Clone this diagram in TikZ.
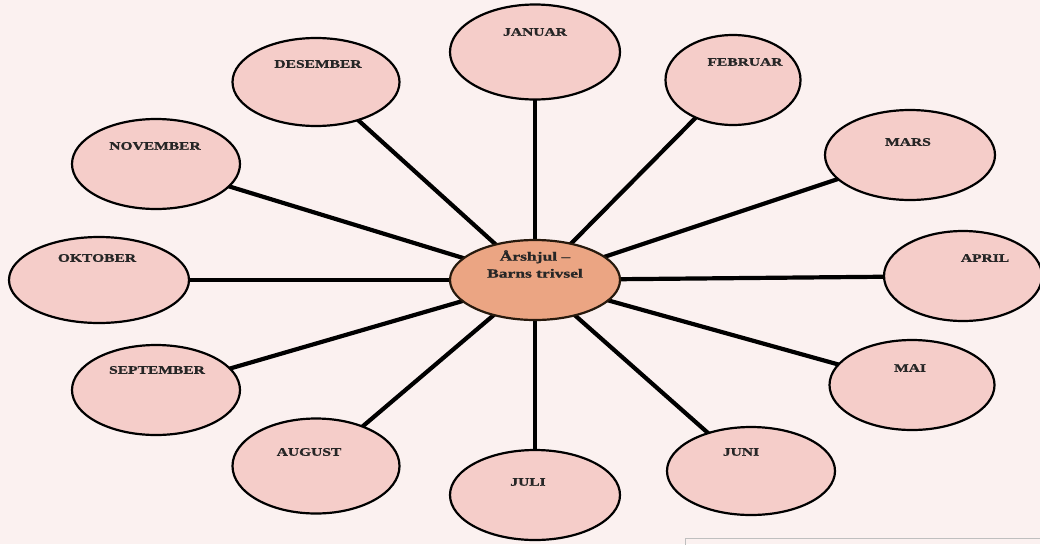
\documentclass[tikz,border=0pt]{standalone}
\usepackage{fontspec}
\setmainfont{Liberation Serif}
\newfontfamily\widefont[FakeStretch=1.35,FakeBold=1.2]{Liberation Serif}
\newfontfamily\hubfont[FakeStretch=1.4,FakeBold=1.2]{Liberation Serif}
\usetikzlibrary{shapes.geometric,backgrounds}
\definecolor{bgc}{HTML}{FBF1F0}
\definecolor{monthfill}{HTML}{F5CDC9}
\definecolor{hubfill}{HTML}{EBA583}
\tikzset{
  month/.style={ellipse, draw=black, line width=2.2pt, fill=monthfill, inner sep=0pt, minimum width=#1},
  month/.default=168pt,
  mtext/.style={font=\widefont\bfseries\fontsize{11.5}{12}\selectfont, text=black!85},
  hub/.style={ellipse, draw=black!80!brown, line width=2.2pt, fill=hubfill, minimum width=170pt, minimum height=80pt, inner sep=0pt},
  spoke/.style={line width=4.2pt, black}
}
\begin{document}
\begin{tikzpicture}[x=1pt,y=-1pt]
\begin{scope}[on background layer]
\fill[bgc] (0,0) rectangle (1040,544);
\end{scope}
\useasboundingbox (0,0) rectangle (1040,544);
\draw[black!25, line width=0.8pt] (685,538) rectangle (1050,560);
% hub
\node[hub] (c) at (535,280) {};
\node[font=\hubfont\bfseries\fontsize{12.5}{17}\selectfont, align=center, text=black!85] (ct) at (535,264) {Årshjul –\\Barns trivsel};
% months
\node[month=170pt, minimum height=95pt] (jan) at (535,52) {};
\node[month=135pt, minimum height=90pt] (feb) at (733,80) {};
\node[month=170pt, minimum height=90pt] (mar) at (910,155) {};
\node[month=158pt, minimum height=90pt] (apr) at (963,276) {};
\node[month=165pt, minimum height=90pt] (mai) at (912,385) {};
\node[month=168pt, minimum height=88pt] (jun) at (751,471) {};
\node[month=170pt, minimum height=90pt] (jul) at (535,495) {};
\node[month=167pt, minimum height=95pt] (aug) at (316,466) {};
\node[month=168pt, minimum height=90pt] (sep) at (156,390) {};
\node[month=180pt, minimum height=86pt] (okt) at (99,280) {};
\node[month=168pt, minimum height=90pt] (nov) at (156,164) {};
\node[month=167pt, minimum height=88pt] (des) at (316,82) {};
% labels
\node[mtext] (jant) at (535,32) {JANUAR};
\node[mtext] (febt) at (745,62) {FEBRUAR};
\node[mtext] (mart) at (908,142) {MARS};
\node[mtext] (aprt) at (985,258) {APRIL};
\node[mtext] (mait) at (910,368) {MAI};
\node[mtext] (junt) at (741,452) {JUNI};
\node[mtext] (jult) at (528,482) {JULI};
\node[mtext] (augt) at (309,452) {AUGUST};
\node[mtext] (sept) at (157,370) {SEPTEMBER};
\node[mtext] (oktt) at (97,258) {OKTOBER};
\node[mtext] (novt) at (155,146) {NOVEMBER};
\node[mtext] (dest) at (318,64) {DESEMBER};
\begin{scope}[on background layer]
\foreach \m in {jan,feb,mar,apr,mai,jun,jul,aug,sep,okt,nov,des}
  \draw[spoke] (c.center) -- (\m.center);
\end{scope}
\end{tikzpicture}
\end{document}
